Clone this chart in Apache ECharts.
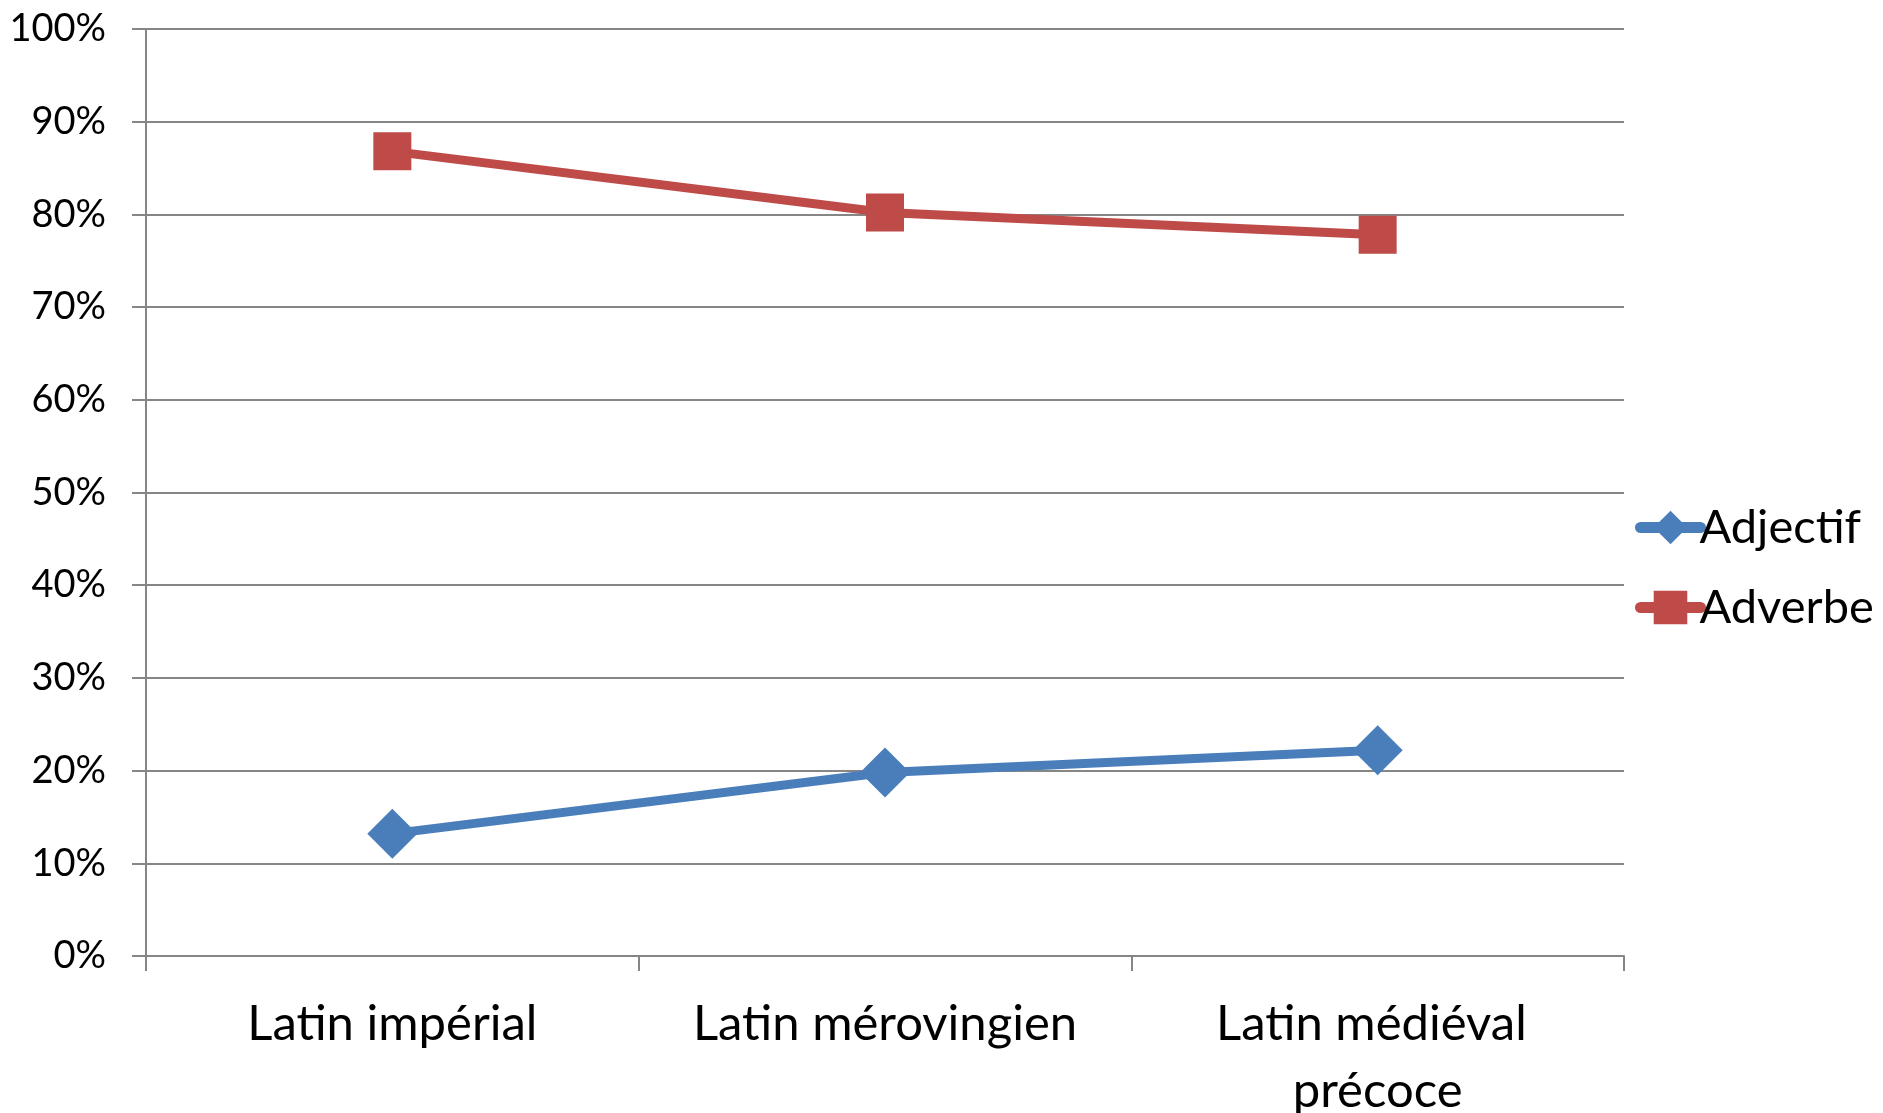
<!DOCTYPE html>
<html>
<head>
<meta charset="utf-8">
<script src="https://cdn.jsdelivr.net/npm/echarts@6/dist/echarts.min.js"></script>
<style>
html,body{margin:0;padding:0;background:#fff;}
#c{width:1883px;height:1113px;}
</style>
</head>
<body>
<div id="c"></div>
<script>
var categories = ["Latin impérial", "Latin mérovingien", "Latin médiéval précoce"];
var adjectif = [13.2, 19.8, 22.2];
var adverbe = [86.8, 80.2, 77.8];
var yTicks = [0, 10, 20, 30, 40, 50, 60, 70, 80, 90, 100];

var FONT = "Lato";
var chart = echarts.init(document.getElementById('c'));
chart.setOption({
  backgroundColor: '#ffffff',
  animation: false,
  textStyle: { fontFamily: FONT },
  grid: { left: 146, right: 259, top: 29, bottom: 157, containLabel: false, outerBoundsMode: 'none' },
  legend: {
    orient: 'vertical',
    left: 1630,
    top: 499,
    itemWidth: 60,
    itemHeight: 42,
    itemGap: 33,
    lineStyle: { width: 11, cap: 'round' },
    textStyle: { fontFamily: FONT, fontSize: 47, color: '#000', padding: [0, 0, 0, -6] },
    data: ['Adjectif', 'Adverbe']
  },
  xAxis: {
    type: 'category',
    data: categories,
    boundaryGap: true,
    axisLine: { show: true, lineStyle: { color: '#868686', width: 2 } },
    axisTick: { show: true, length: 15, lineStyle: { color: '#868686', width: 2 } },
    axisLabel: {
      interval: 0,
      color: '#000',
      fontFamily: FONT,
      fontSize: 49,
      lineHeight: 67,
      margin: 35,
      width: 430,
      overflow: 'break'
    },
    splitLine: { show: false }
  },
  yAxis: {
    type: 'value',
    min: 0,
    max: 100,
    interval: 10,
    axisLine: { show: true, lineStyle: { color: '#868686', width: 2 } },
    axisTick: { show: true, length: 14, lineStyle: { color: '#868686', width: 2 } },
    axisLabel: {
      color: '#000',
      fontFamily: FONT,
      fontSize: 38,
      margin: 40,
      formatter: function (v) { return yTicks.indexOf(v) >= 0 ? v + '%' : ''; }
    },
    splitLine: { show: true, lineStyle: { color: '#868686', width: 2 } }
  },
  series: [
    {
      name: 'Adjectif',
      type: 'line',
      data: adjectif,
      symbol: 'diamond',
      symbolSize: 50,
      lineStyle: { color: '#4A7EBB', width: 9 },
      itemStyle: { color: '#4A7EBB', borderWidth: 0 },
      z: 3
    },
    {
      name: 'Adverbe',
      type: 'line',
      data: adverbe,
      symbol: 'rect',
      symbolSize: 38,
      lineStyle: { color: '#BE4B48', width: 9 },
      itemStyle: { color: '#BE4B48', borderWidth: 0 },
      z: 3
    }
  ]
});
</script>
</body>
</html>
